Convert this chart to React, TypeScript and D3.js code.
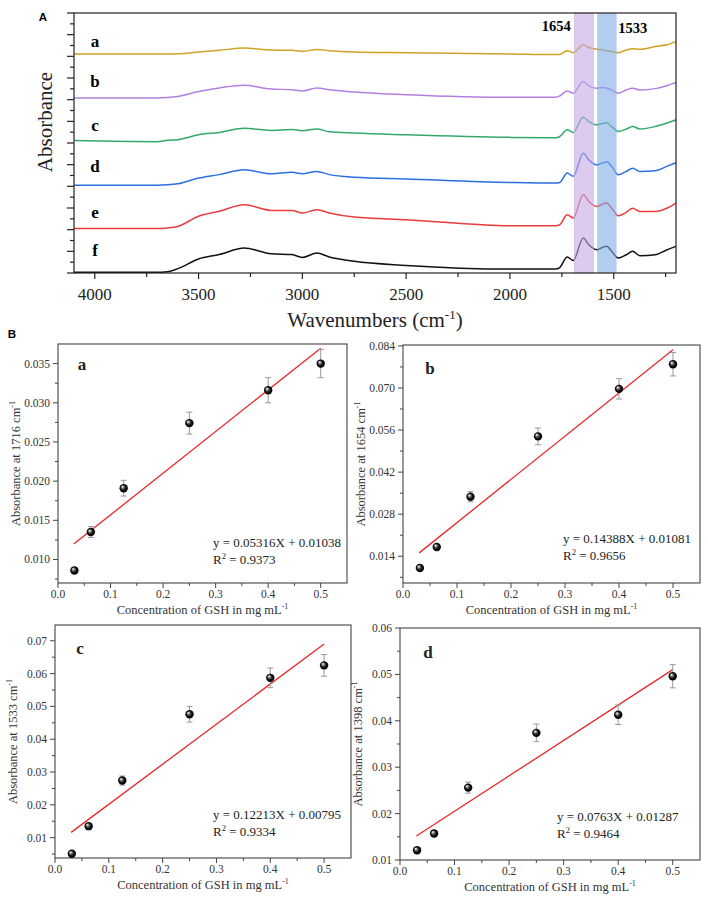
import React from 'react';
import * as d3 from 'd3';

// ---------- Panel A: FTIR spectra ----------
const wavenumbers = [4100, 3700, 3650, 3600, 3500, 3400, 3280, 3150, 3050, 3000, 2930, 2870, 2750, 2500, 2000,
  1780, 1760, 1724, 1695, 1647, 1620, 1582, 1550, 1534, 1510, 1478, 1440, 1409, 1374, 1300, 1245, 1200];
const spectrumA = [10.11, 10.11, 10.11, 10.12, 10.20, 10.28, 10.38, 10.29, 10.28, 10.23, 10.32, 10.26, 10.20, 10.17, 10.11,
  10.08, 10.09, 10.26, 10.17, 10.53, 10.41, 10.33, 10.29, 10.26, 10.22, 10.17, 10.29, 10.35, 10.33, 10.45, 10.53, 10.68];
const spectrumB = [8.08, 8.08, 8.10, 8.15, 8.38, 8.54, 8.66, 8.49, 8.46, 8.40, 8.54, 8.46, 8.35, 8.23, 8.11,
  8.11, 8.17, 8.40, 8.30, 8.84, 8.64, 8.53, 8.56, 8.53, 8.45, 8.30, 8.45, 8.53, 8.45, 8.51, 8.64, 8.80];
const spectrumC = [6.11, 6.06, 6.13, 6.15, 6.38, 6.49, 6.68, 6.58, 6.62, 6.57, 6.65, 6.52, 6.46, 6.38, 6.26,
  6.24, 6.30, 6.61, 6.49, 7.19, 6.99, 6.84, 6.91, 6.94, 6.76, 6.53, 6.64, 6.76, 6.65, 6.76, 6.91, 7.07];
const spectrumD = [4.05, 4.05, 4.07, 4.12, 4.38, 4.54, 4.77, 4.58, 4.65, 4.58, 4.69, 4.54, 4.42, 4.34, 4.18,
  4.15, 4.18, 4.61, 4.46, 5.53, 5.22, 4.99, 5.09, 5.13, 4.92, 4.53, 4.69, 4.84, 4.69, 4.72, 4.92, 5.09];
const spectrumE = [2.05, 2.05, 2.08, 2.15, 2.62, 2.85, 3.15, 2.89, 2.89, 2.77, 2.92, 2.77, 2.58, 2.46, 2.18,
  2.18, 2.23, 2.69, 2.54, 3.61, 3.30, 3.07, 3.20, 3.23, 2.99, 2.64, 2.80, 2.99, 2.84, 2.84, 2.99, 3.23];
const spectrumF = [0.03, 0.03, 0.06, 0.20, 0.65, 0.85, 1.15, 0.89, 0.85, 0.72, 0.92, 0.74, 0.54, 0.35, 0.18,
  0.18, 0.25, 0.74, 0.58, 1.61, 1.30, 1.07, 1.20, 1.23, 1.00, 0.69, 0.84, 1.00, 0.80, 0.84, 1.06, 1.23];
const spectrumNames = ['a', 'b', 'c', 'd', 'e', 'f'];
const spectrumColors = ['#cfa226', '#b27fe0', '#33a86a', '#2b6fe0', '#ea3c3c', '#111111'];
const wnTicks = [4000, 3500, 3000, 2500, 2000, 1500];
const bandAmide1 = [1690, 1598];
const bandAmide2 = [1580, 1486];
const bandLabels = ['1654', '1533'];

// ---------- Panel B: calibration ----------
const concentrations = [0.03125, 0.0625, 0.125, 0.25, 0.4, 0.5];
const abs1716 = [0.0086, 0.0135, 0.0191, 0.0274, 0.0316, 0.0350];
const err1716 = [0.0003, 0.0007, 0.0010, 0.0014, 0.0016, 0.0018];
const abs1654 = [0.0101, 0.0171, 0.0338, 0.0539, 0.0697, 0.0779];
const err1654 = [0.0004, 0.0005, 0.0017, 0.0028, 0.0034, 0.0039];
const abs1533 = [0.0051, 0.0135, 0.0274, 0.0476, 0.0587, 0.0625];
const err1533 = [0.0003, 0.0004, 0.0014, 0.0024, 0.0030, 0.0033];
const abs1398 = [0.0121, 0.0157, 0.0256, 0.0374, 0.0413, 0.0496];
const err1398 = [0.0003, 0.0006, 0.0012, 0.0019, 0.0021, 0.0025];
const fitSlopes = [0.05316, 0.14388, 0.12213, 0.0763];
const fitIntercepts = [0.01038, 0.01081, 0.00795, 0.01287];
const fitSlopeText = ['0.05316', '0.14388', '0.12213', '0.0763'];
const fitInterceptText = ['0.01038', '0.01081', '0.00795', '0.01287'];
const r2Text = ['0.9373', '0.9656', '0.9334', '0.9464'];
const bandNumbers = ['1716', '1654', '1533', '1398'];
const panelLetters = ['a', 'b', 'c', 'd'];
const yTicks1716 = [0.010, 0.015, 0.020, 0.025, 0.030, 0.035];
const yTicks1654 = [0.014, 0.028, 0.042, 0.056, 0.070, 0.084];
const yTicks1533 = [0.01, 0.02, 0.03, 0.04, 0.05, 0.06, 0.07];
const yTicks1398 = [0.01, 0.02, 0.03, 0.04, 0.05, 0.06];
const xTicksConc = [0, 0.1, 0.2, 0.3, 0.4, 0.5];

const SERIF = "'Liberation Serif', 'Times New Roman', Times, serif";
const SANS = "'Liberation Sans', Arial, sans-serif";

function SpectraPanel() {
  const x = d3.scaleLinear().domain([4100, 1200]).range([74, 676]);
  const y = d3.scaleLinear().domain([0, 12]).range([273, 13]);
  const series = [spectrumA, spectrumB, spectrumC, spectrumD, spectrumE, spectrumF];
  const line = d3.line<[number, number]>()
    .x((d) => x(d[0]))
    .y((d) => y(d[1]))
    .curve(d3.curveMonotoneX);
  const labelY = [42, 82, 126, 167, 213, 251];
  const majorY = d3.range(0, 13, 1);
  const minorY = d3.range(0.5, 12, 1);
  const minorX = d3.range(3750, 1200, -500);
  return (
    <g>
      <text x={43} y={21} fontFamily={SANS} fontWeight="bold" fontSize={11.5} textAnchor="middle">A</text>
      {series.map((s, i) => (
        <path key={i} d={line(wavenumbers.map((w, j) => [w, s[j]]) as [number, number][]) || ''}
          fill="none" stroke={spectrumColors[i]} strokeWidth={1.5} strokeLinejoin="round" />
      ))}
      <rect x={x(bandAmide1[0])} y={y(12)} width={x(bandAmide1[1]) - x(bandAmide1[0])} height={y(0) - y(12)}
        fill="#c5a8e3" fillOpacity={0.6} stroke="#c9b2e2" strokeWidth={0.6} />
      <rect x={x(bandAmide2[0])} y={y(12)} width={x(bandAmide2[1]) - x(bandAmide2[0])} height={y(0) - y(12)}
        fill="#80ace8" fillOpacity={0.6} />
      <text x={x(bandAmide1[0]) - 18} y={31} fontFamily={SERIF} fontWeight="bold" fontSize={14.5} textAnchor="middle">{bandLabels[0]}</text>
      <text x={x(bandAmide2[1]) + 16} y={33} fontFamily={SERIF} fontWeight="bold" fontSize={14.5} textAnchor="middle">{bandLabels[1]}</text>
      {spectrumNames.map((n, i) => (
        <text key={n} x={95} y={labelY[i] + 5} fontFamily={SERIF} fontWeight="bold" fontSize={17} textAnchor="middle">{n}</text>
      ))}
      <rect x={74} y={13} width={602} height={260} fill="none" stroke="#222" strokeWidth={1.2} />
      {majorY.map((v) => (
        <line key={'my' + v} x1={67} x2={74} y1={y(v)} y2={y(v)} stroke="#222" strokeWidth={1.2} />
      ))}
      {minorY.map((v) => (
        <line key={'ny' + v} x1={70} x2={74} y1={y(v)} y2={y(v)} stroke="#222" strokeWidth={1.2} />
      ))}
      {wnTicks.map((v) => (
        <g key={'mx' + v}>
          <line x1={x(v)} x2={x(v)} y1={273} y2={279} stroke="#222" strokeWidth={1.2} />
          <text x={x(v)} y={300} fontFamily={SERIF} fontSize={17} textAnchor="middle" fill="#222">{v}</text>
        </g>
      ))}
      {minorX.map((v) => (
        <line key={'nx' + v} x1={x(v)} x2={x(v)} y1={273} y2={277} stroke="#222" strokeWidth={1.2} />
      ))}
      <text x={375} y={327} fontFamily={SERIF} fontSize={21} textAnchor="middle" fill="#222">
        Wavenumbers (cm<tspan dy={-8} fontSize={13}>-1</tspan><tspan dy={8}>)</tspan>
      </text>
      <text transform="translate(52,122) rotate(-90)" fontFamily={SERIF} fontSize={21} textAnchor="middle" fill="#222">Absorbance</text>
    </g>
  );
}

type PanelProps = {
  idx: number;
  frame: { l: number; r: number; t: number; b: number };
  yDomain: [number, number];
  yTicks: number[];
  yDigits: number;
  values: number[];
  errors: number[];
  letterOff: [number, number];
  eqPos: [number, number];
};

function CalPanel({ idx, frame, yDomain, yTicks, yDigits, values, errors, letterOff, eqPos }: PanelProps) {
  const x = d3.scaleLinear().domain([0, 0.55]).range([frame.l, frame.r]);
  const y = d3.scaleLinear().domain(yDomain).range([frame.b, frame.t]);
  const step = yTicks[1] - yTicks[0];
  const minorY = yTicks.map((v) => v + step / 2).filter((v) => v > yDomain[0] && v < yDomain[1]);
  const belowMinor = yTicks[0] - step / 2;
  if (belowMinor > yDomain[0]) minorY.push(belowMinor);
  const minorX = d3.range(0.05, 0.55, 0.1);
  const fmt = d3.format('.' + yDigits + 'f');
  const slope = fitSlopes[idx];
  const icpt = fitIntercepts[idx];
  const x0 = 0.03;
  const x1 = 0.5;
  const cx = (frame.l + frame.r) / 2;
  const cy = (frame.t + frame.b) / 2;
  const ink = '#333';
  return (
    <g>
      <rect x={frame.l} y={frame.t} width={frame.r - frame.l} height={frame.b - frame.t} fill="none" stroke="#444" strokeWidth={1.1} />
      {yTicks.map((v) => (
        <g key={'yt' + v}>
          <line x1={frame.l - 5} x2={frame.l} y1={y(v)} y2={y(v)} stroke="#444" />
          <text x={frame.l - 8} y={y(v) + 4} fontFamily={SERIF} fontSize={11.5} textAnchor="end" fill={ink}>{fmt(v)}</text>
        </g>
      ))}
      {minorY.map((v) => (
        <line key={'ym' + v} x1={frame.l - 3} x2={frame.l} y1={y(v)} y2={y(v)} stroke="#444" />
      ))}
      {xTicksConc.map((v) => (
        <g key={'xt' + v}>
          <line x1={x(v)} x2={x(v)} y1={frame.b} y2={frame.b + 5} stroke="#444" />
          <text x={x(v)} y={frame.b + 15} fontFamily={SERIF} fontSize={11.5} textAnchor="middle" fill={ink}>{v.toFixed(1)}</text>
        </g>
      ))}
      {minorX.map((v) => (
        <line key={'xm' + v} x1={x(v)} x2={x(v)} y1={frame.b} y2={frame.b + 3} stroke="#444" />
      ))}
      <text x={cx} y={frame.b + 31} fontFamily={SERIF} fontSize={12.5} textAnchor="middle" fill={ink}>
        Concentration of GSH in mg mL<tspan dy={-5} fontSize={8}>-1</tspan>
      </text>
      <text transform={`translate(${frame.l - 38},${cy}) rotate(-90)`} fontFamily={SERIF} fontSize={12.5} textAnchor="middle" fill={ink}>
        Absorbance at {bandNumbers[idx]} cm<tspan dy={-5} fontSize={8}>-1</tspan>
      </text>
      <text x={frame.l + letterOff[0]} y={frame.t + letterOff[1]} fontFamily={SERIF} fontWeight="bold" fontSize={17} textAnchor="middle" fill="#222">{panelLetters[idx]}</text>
      <line x1={x(x0)} y1={y(slope * x0 + icpt)} x2={x(x1)} y2={y(slope * x1 + icpt)} stroke="#e8262a" strokeWidth={1.3} />
      {concentrations.map((c, i) => (
        <g key={'pt' + i}>
          <line x1={x(c)} x2={x(c)} y1={y(values[i] - errors[i])} y2={y(values[i] + errors[i])} stroke="#999" strokeWidth={1} />
          <line x1={x(c) - 3} x2={x(c) + 3} y1={y(values[i] + errors[i])} y2={y(values[i] + errors[i])} stroke="#999" strokeWidth={1} />
          <line x1={x(c) - 3} x2={x(c) + 3} y1={y(values[i] - errors[i])} y2={y(values[i] - errors[i])} stroke="#999" strokeWidth={1} />
          <circle cx={x(c)} cy={y(values[i])} r={4.2} fill="url(#sphere)" />
        </g>
      ))}
      <text x={eqPos[0]} y={eqPos[1]} fontFamily={SERIF} fontSize={13} fill="#222">
        y = {fitSlopeText[idx]}X + {fitInterceptText[idx]}
      </text>
      <text x={eqPos[0]} y={eqPos[1] + 16.5} fontFamily={SERIF} fontSize={13} fill="#222">
        R<tspan dy={-5} fontSize={8.5}>2</tspan><tspan dy={5}> = {r2Text[idx]}</tspan>
      </text>
    </g>
  );
}

export default function App() {
  return (
    <svg width={708} height={899} style={{ position: 'absolute', left: 0, top: 0, background: '#fff' }}>
      <defs>
        <radialGradient id="sphere" cx="0.5" cy="0.5" r="0.5" fx="0.32" fy="0.3">
          <stop offset="0%" stopColor="#ffffff" />
          <stop offset="25%" stopColor="#9a9a9a" />
          <stop offset="60%" stopColor="#151515" />
          <stop offset="100%" stopColor="#000000" />
        </radialGradient>
      </defs>
      <rect x={0} y={0} width={708} height={899} fill="#fff" />
      <SpectraPanel />
      <text x={12} y={338} fontFamily={SANS} fontWeight="bold" fontSize={11.5} textAnchor="middle">B</text>
      <CalPanel idx={0} frame={{ l: 58, r: 347, t: 344, b: 583 }} yDomain={[0.0070, 0.0375]} yTicks={yTicks1716} yDigits={3}
        values={abs1716} errors={err1716} letterOff={[24, 26]} eqPos={[213, 547]} />
      <CalPanel idx={1} frame={{ l: 403, r: 700, t: 345, b: 583 }} yDomain={[0.0051, 0.0843]} yTicks={yTicks1654} yDigits={3}
        values={abs1654} errors={err1654} letterOff={[27, 29]} eqPos={[563, 543]} />
      <CalPanel idx={2} frame={{ l: 55, r: 351, t: 625, b: 858 }} yDomain={[0.0038, 0.0748]} yTicks={yTicks1533} yDigits={2}
        values={abs1533} errors={err1533} letterOff={[25, 29]} eqPos={[213, 819]} />
      <CalPanel idx={3} frame={{ l: 400, r: 700, t: 628, b: 860 }} yDomain={[0.01, 0.06]} yTicks={yTicks1398} yDigits={2}
        values={abs1398} errors={err1398} letterOff={[28, 30]} eqPos={[557, 821]} />
    </svg>
  );
}
